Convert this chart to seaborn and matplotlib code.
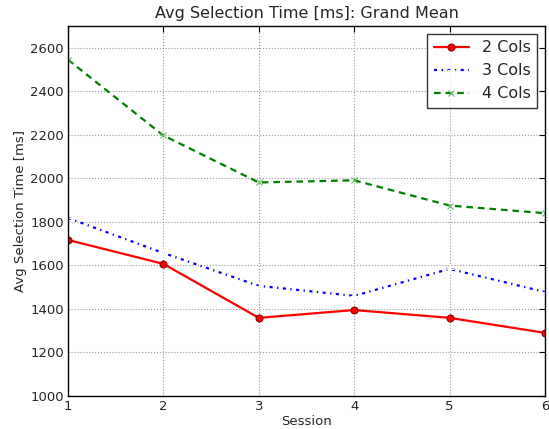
import matplotlib
matplotlib.use("Agg")
import matplotlib.pyplot as plt
import pandas as pd
import seaborn as sns

sessions = [1, 2, 3, 4, 5, 6]
cols2 = [1717, 1607, 1359, 1395, 1359, 1290]
cols3 = [1818, 1657, 1506, 1460, 1584, 1478]
cols4 = [2545, 2197, 1981, 1991, 1875, 1840]
labels = ["2 Cols", "3 Cols", "4 Cols"]

sns.set_style("white")
plt.rcParams["font.family"] = ["DejaVu Sans"]

fig = plt.figure(figsize=(5.49, 4.29), dpi=100)
ax = fig.add_axes([68 / 549, 1 - 396 / 429, (545 - 68) / 549, (396 - 26) / 429])

styles = [
    dict(color="red", linestyle="-", marker="o", markersize=5, markeredgecolor="darkred", markeredgewidth=0.8),
    dict(color="blue", linestyle=(0, (1.4, 2.0, 0.6, 2.0)), marker="+", markersize=6, markeredgewidth=0.8),
    dict(color="green", linestyle=(0, (3.0, 2.2)), marker="x", markersize=5, markeredgecolor="#66bb66", markeredgewidth=0.8),
]
for vals, lab, st in zip([cols2, cols3, cols4], labels, styles):
    df = pd.DataFrame({"Session": sessions, "ms": vals})
    sns.lineplot(data=df, x="Session", y="ms", label=lab, linewidth=1.6, ax=ax, **st)

ax.set_xlim(1, 6)
ax.set_ylim(1000, 2700)
ax.set_yticks(range(1000, 2601, 200))
ax.set_xticks(sessions)
ax.grid(True, linestyle=":", color="#999999", linewidth=0.8)
for s in ax.spines.values():
    s.set_color("black")
    s.set_linewidth(1)
ax.tick_params(labelsize=9.5, direction="in", length=4, color="black", top=True, right=True, pad=3)
ax.set_title("Avg Selection Time [ms]: Grand Mean", fontsize=11.5)
ax.set_xlabel("Session", fontsize=9.5, labelpad=1)
ax.set_ylabel("Avg Selection Time [ms]", fontsize=9.5, labelpad=2)
leg = ax.legend(loc="upper right", fontsize=11.5, frameon=True, fancybox=False, handlelength=2.2)
leg.get_frame().set_edgecolor("black")
leg.get_frame().set_linewidth(1)

fig.savefig("out.png", dpi=100)
